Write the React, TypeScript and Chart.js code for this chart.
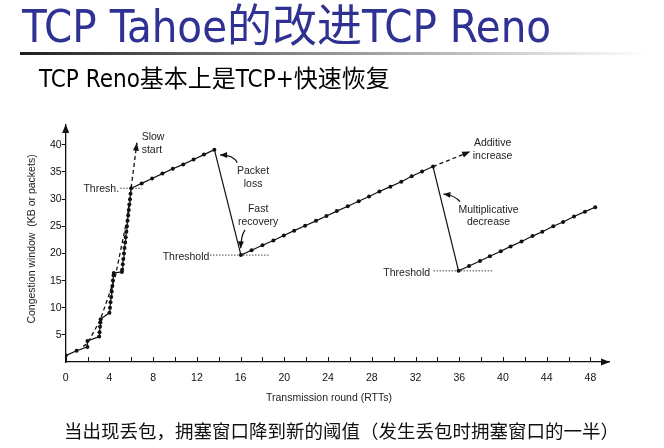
import React, { useEffect, useRef } from 'react';
import { Chart, registerables } from 'chart.js';

Chart.register(...registerables);

// ---------- text ----------
const pageTitle = 'TCP Tahoe的改进TCP Reno';
const pageSubtitle = 'TCP Reno基本上是TCP+快速恢复';
const pageNote = '当出现丢包，拥塞窗口降到新的阈值（发生丢包时拥塞窗口的一半）';
const xAxisTitle = 'Transmission round (RTTs)';
const yAxisTitle = 'Congestion window  (KB or packets)';

// ---------- ticks ----------
const xTickValues = [0, 2, 4, 6, 8, 10, 12, 14, 16, 18, 20, 22, 24, 26, 28, 30, 32, 34, 36, 38, 40, 42, 44, 46, 48];
const xLabelValues = [0, 4, 8, 12, 16, 20, 24, 28, 32, 36, 40, 44, 48];
const yTickValues = [5, 10, 15, 20, 25, 30, 35, 40];

// ---------- series: TCP Reno congestion window (solid, dotted marks) ----------
const renoRounds = [
  0, 1.0, 1.99, 1.99, 3.06, 3.1, 3.14, 3.17, 3.2,
  4.0, 4.05, 4.1, 4.16, 4.21, 4.27, 4.32, 4.38, 4.4,
  5.14, 5.16, 5.22, 5.27, 5.33, 5.38, 5.44, 5.49, 5.55, 5.6, 5.66, 5.71, 5.77, 5.82, 5.88, 5.93, 5.99,
  6.95, 7.9, 8.85, 9.8, 10.75, 11.7, 12.65, 13.6,
  16.03, 17.0, 18.0, 19.0, 19.95, 20.9, 21.9, 22.9, 23.85, 24.8, 25.8, 26.8, 27.75, 28.7, 29.7, 30.7, 31.65, 32.6, 33.6,
  35.94, 36.9, 37.9, 38.8, 39.8, 40.7, 41.7, 42.7, 43.6, 44.6, 45.5, 46.5, 47.5, 48.44,
];
const renoWindow = [
  1.2, 2.1, 2.8, 3.9, 4.7, 5.5, 6.5, 7.3, 7.9,
  9.1, 10, 11, 12, 13, 14, 15, 16, 16.4,
  16.6, 17, 18, 19, 20, 21, 22, 23, 24, 25, 26, 27, 28, 29, 30, 31, 32,
  32.9, 33.8, 34.7, 35.6, 36.4, 37.3, 38.2, 39.1,
  19.7, 20.6, 21.5, 22.4, 23.3, 24.2, 25.1, 26.0, 26.9, 27.8, 28.7, 29.6, 30.5, 31.4, 32.3, 33.2, 34.2, 35.1, 36.0,
  16.8, 17.7, 18.6, 19.5, 20.4, 21.3, 22.2, 23.2, 24.0, 25.0, 25.8, 26.8, 27.7, 28.5,
];

// ---------- series: slow start continuation (dashed) ----------
const slowStartRounds = [1.6, 1.99, 3.16, 4.53, 5.6, 6.2, 6.51];
const slowStartWindow = [2.9, 3.46, 7.75, 15.7, 26.2, 35.4, 40.4];

// ---------- series: additive increase continuation (dashed) ----------
const additiveRounds = [33.6, 37.0];
const additiveWindow = [36.0, 38.75];

// ---------- threshold markers (dotted) ----------
const thresh1Rounds = [4.99, 6.97];
const thresh1Window = [32, 32];
const thresh2Rounds = [13.2, 18.6];
const thresh2Window = [19.7, 19.7];
const thresh3Rounds = [33.65, 39.08];
const thresh3Window = [16.8, 16.8];

// ---------- annotations (anchored in data coordinates) ----------
const noteTexts = ['Slow', 'start', 'Thresh.', 'Packet', 'loss', 'Fast', 'recovery', 'Threshold', 'Additive', 'increase', 'Multiplicative', 'decrease', 'Threshold'];
const noteRounds = [6.95, 6.95, 4.88, 17.14, 17.14, 17.6, 17.6, 13.14, 39.05, 39.05, 38.68, 38.68, 33.33];
const noteWindow = [41.5, 39.06, 31.83, 35.07, 32.8, 28.2, 25.86, 19.41, 40.3, 37.96, 28.0, 25.86, 16.47];
const noteAlign = ['left', 'left', 'right', 'center', 'center', 'center', 'center', 'right', 'center', 'center', 'center', 'center', 'right'];

// curved pointer arrows: [fromX, fromY, ctrlX, ctrlY, toX, toY]
const pointerArrows = [
  [15.7, 36.72, 15.31, 38.14, 14.12, 38.14],
  [16.41, 24.33, 16.05, 23.4, 16.01, 20.95],
  [36.07, 29.53, 35.62, 30.68, 34.55, 30.95],
];

const pts = (xs: number[], ys: number[]) => xs.map((x, i) => ({ x, y: ys[i] }));

const INK = '#111';
const LABEL_FONT = '"Liberation Sans", Arial, sans-serif';

function arrowHead(ctx: CanvasRenderingContext2D, tx: number, ty: number, dx: number, dy: number, len: number, half: number) {
  const m = Math.hypot(dx, dy) || 1;
  const ux = dx / m, uy = dy / m;
  const bx = tx - ux * len, by = ty - uy * len;
  ctx.beginPath();
  ctx.moveTo(tx, ty);
  ctx.lineTo(bx - uy * half, by + ux * half);
  ctx.lineTo(bx + uy * half, by - ux * half);
  ctx.closePath();
  ctx.fill();
}

const decorPlugin = {
  id: 'decor',
  afterDraw(chart: any) {
    const { ctx, chartArea: ca } = chart;
    const xs = chart.scales.x, ys = chart.scales.y;
    const px = (v: number) => xs.getPixelForValue(v);
    const py = (v: number) => ys.getPixelForValue(v);
    ctx.save();

    // inward tick marks on the x axis
    ctx.strokeStyle = INK;
    ctx.lineWidth = 1;
    for (const v of xTickValues) {
      const X = Math.round(px(v)) + 0.5;
      ctx.beginPath();
      ctx.moveTo(X, ca.bottom);
      ctx.lineTo(X, ca.bottom - 5);
      ctx.stroke();
    }

    // axis arrowheads
    ctx.fillStyle = INK;
    arrowHead(ctx, ca.left, ca.top - 1, 0, -1, 9, 3.5);
    arrowHead(ctx, ca.right + 1, ca.bottom, 1, 0, 9, 3.5);

    // arrowheads of the dashed continuations
    const endArrow = (rx: number[], wy: number[]) => {
      const n = rx.length;
      const x1 = px(rx[n - 2]), y1 = py(wy[n - 2]);
      const x2 = px(rx[n - 1]), y2 = py(wy[n - 1]);
      arrowHead(ctx, x2, y2, x2 - x1, y2 - y1, 8, 3);
    };
    endArrow(slowStartRounds, slowStartWindow);
    endArrow(additiveRounds, additiveWindow);

    // curved pointers
    ctx.strokeStyle = INK;
    ctx.lineWidth = 1.2;
    for (const a of pointerArrows) {
      const [fx, fy, cx, cy, tx, ty] = [px(a[0]), py(a[1]), px(a[2]), py(a[3]), px(a[4]), py(a[5])];
      ctx.beginPath();
      ctx.moveTo(fx, fy);
      ctx.quadraticCurveTo(cx, cy, tx, ty);
      ctx.stroke();
      arrowHead(ctx, tx, ty, tx - cx, ty - cy, 7, 3);
    }

    // annotations
    ctx.fillStyle = '#222';
    ctx.font = `10.5px ${LABEL_FONT}`;
    ctx.textBaseline = 'middle';
    noteTexts.forEach((t, i) => {
      ctx.textAlign = noteAlign[i] as CanvasTextAlign;
      ctx.fillText(t, px(noteRounds[i]), py(noteWindow[i]));
    });

    // axis titles
    ctx.fillStyle = '#222';
    ctx.textAlign = 'center';
    ctx.fillText(xAxisTitle, 329, 398.5);
    ctx.save();
    ctx.translate(31.7, 239);
    ctx.rotate(-Math.PI / 2);
    ctx.fillText(yAxisTitle, 0, 0);
    ctx.restore();

    // page title, rule, subtitle and note
    ctx.textAlign = 'left';
    ctx.textBaseline = 'alphabetic';
    ctx.fillStyle = '#2f3193';
    ctx.font = '45px "DejaVu Sans Condensed", "Noto Sans CJK SC", sans-serif';
    ctx.fillText(pageTitle, 22, 41.7);

    const g = ctx.createLinearGradient(20, 0, 650, 0);
    g.addColorStop(0, '#1e1e1e');
    g.addColorStop(0.45, '#8a8a8a');
    g.addColorStop(1, '#ffffff');
    ctx.fillStyle = g;
    ctx.fillRect(20, 52, 630, 3);

    ctx.fillStyle = '#000';
    ctx.font = '24px "DejaVu Sans Condensed", "Noto Sans CJK SC", sans-serif';
    ctx.fillText(pageSubtitle, 39, 87.3);

    ctx.fillStyle = '#111';
    ctx.font = '18.5px "Noto Sans CJK SC", sans-serif';
    ctx.textBaseline = 'middle';
    ctx.fillText(pageNote, 64, 431);

    ctx.restore();
  },
};

export default function App() {
  const canvasRef = useRef<HTMLCanvasElement | null>(null);

  useEffect(() => {
    const canvas = canvasRef.current;
    if (!canvas) return;

    const dotted = {
      borderColor: '#333',
      borderWidth: 0.9,
      borderDash: [1.5, 1.5],
      pointRadius: 0,
      fill: false,
    };

    const chart = new Chart(canvas, {
      type: 'line',
      data: {
        datasets: [
          {
            label: 'Reno',
            data: pts(renoRounds, renoWindow),
            borderColor: INK,
            borderWidth: 1.2,
            pointRadius: 2,
            pointBackgroundColor: INK,
            pointBorderWidth: 0,
            tension: 0,
            fill: false,
          },
          {
            label: 'Slow start',
            data: pts(slowStartRounds, slowStartWindow),
            borderColor: INK,
            borderWidth: 1.3,
            borderDash: [4, 3],
            pointRadius: 0,
            tension: 0,
            fill: false,
          },
          {
            label: 'Additive increase',
            data: pts(additiveRounds, additiveWindow),
            borderColor: INK,
            borderWidth: 1.3,
            borderDash: [4, 3],
            pointRadius: 0,
            fill: false,
          },
          { label: 'Thresh 1', data: pts(thresh1Rounds, thresh1Window), ...dotted },
          { label: 'Thresh 2', data: pts(thresh2Rounds, thresh2Window), ...dotted },
          { label: 'Thresh 3', data: pts(thresh3Rounds, thresh3Window), ...dotted },
        ],
      },
      options: {
        responsive: false,
        animation: false,
        devicePixelRatio: 1,
        layout: { padding: { left: 0, right: 55, top: 125, bottom: 0 } },
        plugins: {
          legend: { display: false },
          tooltip: { enabled: false },
          title: { display: false },
        },
        scales: {
          x: {
            type: 'linear',
            min: 0,
            max: 49.7,
            afterBuildTicks: (scale: any) => {
              scale.ticks = xTickValues.map((v) => ({ value: v }));
            },
            afterFit: (scale: any) => {
              scale.height = 85.9;
            },
            grid: { display: false, drawTicks: false },
            border: { display: true, color: INK, width: 1.3 },
            ticks: {
              autoSkip: false,
              maxRotation: 0,
              padding: 10,
              color: INK,
              font: { size: 10.5, family: LABEL_FONT },
              callback: (v: any) => (xLabelValues.includes(Number(v)) ? String(v) : ''),
            },
          },
          y: {
            type: 'linear',
            min: 0,
            max: 43.65,
            afterBuildTicks: (scale: any) => {
              scale.ticks = yTickValues.map((v) => ({ value: v }));
            },
            afterFit: (scale: any) => {
              scale.width = 65.7;
            },
            grid: {
              display: true,
              drawOnChartArea: false,
              drawTicks: true,
              tickLength: 4,
              color: INK,
              lineWidth: 1,
            },
            border: { display: true, color: INK, width: 1.3 },
            ticks: {
              padding: 0,
              color: INK,
              font: { size: 10.5, family: LABEL_FONT },
            },
          },
        },
      },
      plugins: [decorPlugin],
    } as any);

    return () => chart.destroy();
  }, []);

  return (
    <div style={{ position: 'absolute', left: 0, top: 0, width: 664, height: 448, background: '#fff' }}>
      <canvas ref={canvasRef} width={664} height={448} style={{ display: 'block', width: 664, height: 448 }} />
    </div>
  );
}
